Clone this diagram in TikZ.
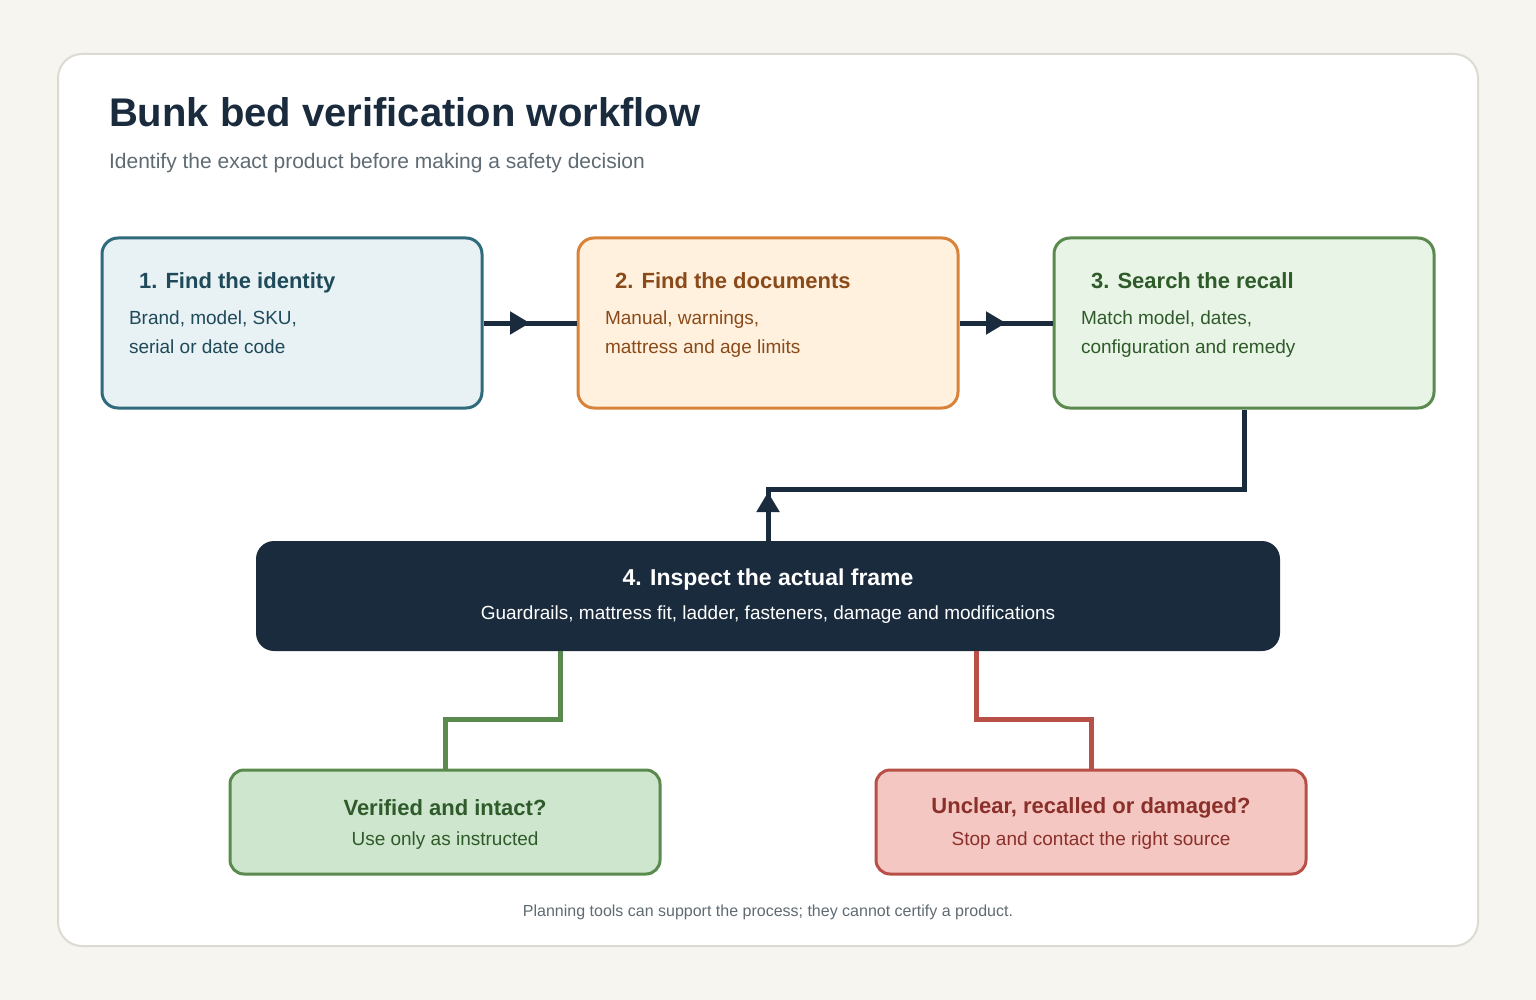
\documentclass[tikz,border=0pt]{standalone}
\usepackage{fontspec}
\setmainfont{Liberation Sans}
\usetikzlibrary{positioning,arrows.meta,decorations.markings}
\definecolor{ink}{HTML}{1B2B3E}
\definecolor{bgpage}{HTML}{F6F5F0}
\definecolor{panelline}{HTML}{DDDAD2}
\definecolor{subgray}{HTML}{5F6B73}
\definecolor{tealline}{HTML}{2F6B7C}
\definecolor{tealfill}{HTML}{E8F1F4}
\definecolor{tealtext}{HTML}{1F4A5A}
\definecolor{orangeline}{HTML}{D9823A}
\definecolor{orangefill}{HTML}{FFF1DE}
\definecolor{orangetext}{HTML}{8A4A1A}
\definecolor{greenline}{HTML}{5A8A4E}
\definecolor{greenfill}{HTML}{E8F4E6}
\definecolor{greenfilltwo}{HTML}{CDE6CD}
\definecolor{greentext}{HTML}{2F5A2A}
\definecolor{redline}{HTML}{B85048}
\definecolor{redfill}{HTML}{F4C7C2}
\definecolor{redtext}{HTML}{8A2F2A}
\begin{document}
\begin{tikzpicture}[
     x=0.5pt, y=-0.5pt,
     stepbox/.style = {rectangle, rounded corners=8pt, line width=1.5pt, minimum width=190pt, minimum height=85pt},
     verdict/.style = {rectangle, rounded corners=7pt, line width=1.5pt, minimum width=215pt, minimum height=52pt},
     head/.style = {anchor=base west, font=\fontsize{11}{13}\selectfont\bfseries},
     body/.style = {anchor=north west, align=left, font=\fontsize{9.5}{14.5}\selectfont},
     link/.style = {line width=2.5pt, draw=ink},
     midtip/.style = {postaction=decorate, decoration={markings,
        mark=at position #1 with {\arrow{Triangle[length=10pt,width=11pt]}}}}
                        ]
\fill[bgpage] (0,0) rectangle (1536,1000);
\node (panel) [rectangle, rounded corners=12pt, fill=white, draw=panelline, line width=1pt,
   minimum width=710pt, minimum height=446pt] at (768,500) {};
\node (title) [anchor=base west, text=ink, font=\fontsize{20}{24}\selectfont\bfseries] at (102,127) {Bunk bed verification workflow};
\node (sub) [anchor=base west, text=subgray, font=\fontsize{10.5}{13}\selectfont] at (102,169) {Identify the exact product before making a safety decision};
% steps
\node (ident) [stepbox, fill=tealfill, draw=tealline] at (292,323) {};
\node (docs)  [stepbox, fill=orangefill, draw=orangeline] at (768,323) {};
\node (recall)[stepbox, fill=greenfill, draw=greenline] at (1244,323) {};
\node [head, text=tealtext] at (132,288) {1. Find the identity};
\node [body, text=tealtext] at (122,304) {Brand, model, SKU,\\serial or date code};
\node [head, text=orangetext] at (608,288) {2. Find the documents};
\node [body, text=orangetext] at (598,304) {Manual, warnings,\\mattress and age limits};
\node [head, text=greentext] at (1084,288) {3. Search the recall};
\node [body, text=greentext] at (1074,304) {Match model, dates,\\configuration and remedy};
% frame
\node (frame) [rectangle, rounded corners=9pt, fill=ink, minimum width=512pt, minimum height=55pt] at (768,596) {};
\node [text=white, font=\fontsize{11.5}{14}\selectfont\bfseries] at (768,580) {4. Inspect the actual frame};
\node [text=white, font=\fontsize{9.5}{12}\selectfont] at (768,615) {Guardrails, mattress fit, ladder, fasteners, damage and modifications};
% verdicts
\node (ok)  [verdict, fill=greenfilltwo, draw=greenline] at (445,822) {};
\node (bad) [verdict, fill=redfill, draw=redline] at (1091,822) {};
\node [text=greentext, font=\fontsize{11}{13}\selectfont\bfseries] at (445,808) {Verified and intact?};
\node [text=greentext, font=\fontsize{9.5}{12}\selectfont] at (445,841) {Use only as instructed};
\node [text=redtext, font=\fontsize{11}{13}\selectfont\bfseries] at (1091,808) {Unclear, recalled or damaged?};
\node [text=redtext, font=\fontsize{9.5}{12}\selectfont] at (1091,841) {Stop and contact the right source};
\node (note) [text=subgray, font=\fontsize{8}{10}\selectfont] at (768,912) {Planning tools can support the process; they cannot certify a product.};
% connectors
\draw[link, midtip=0.5] (ident) -- (docs);
\draw[link, midtip=0.5] (docs) -- (recall);
\draw[link, midtip=0.08] (frame.north) -- (768,489) -| (recall.south);
\draw[line width=2.5pt, draw=greenline] (frame.south -| 560,0) -- (560,719) -| (ok.north);
\draw[line width=2.5pt, draw=redline] (frame.south -| 976,0) -- (976,719) -| (bad.north);
\end{tikzpicture}
\end{document}
